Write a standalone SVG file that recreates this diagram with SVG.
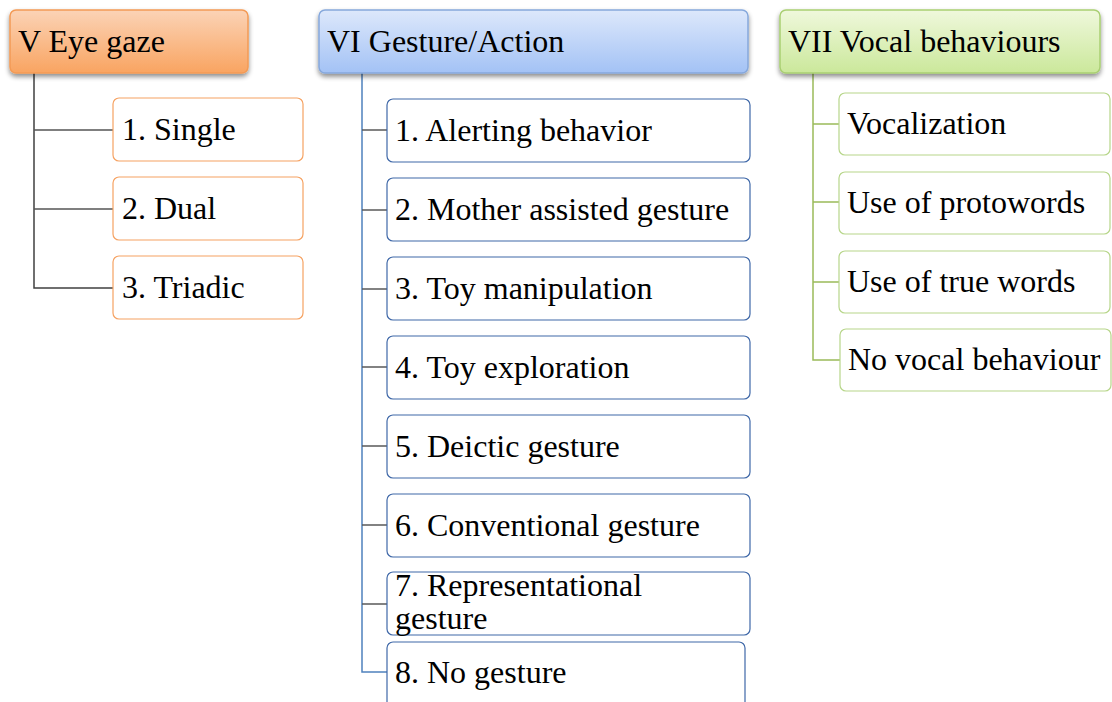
<svg xmlns="http://www.w3.org/2000/svg" width="1112" height="702" viewBox="0 0 1112 702">
<defs>
<linearGradient id="gO" x1="0" y1="0" x2="0" y2="1"><stop offset="0" stop-color="#fbd3b6"/><stop offset="1" stop-color="#f9a461"/></linearGradient>
<linearGradient id="gB" x1="0" y1="0" x2="0" y2="1"><stop offset="0" stop-color="#dde8fb"/><stop offset="1" stop-color="#a3c2f5"/></linearGradient>
<linearGradient id="gG" x1="0" y1="0" x2="0" y2="1"><stop offset="0" stop-color="#eff8dc"/><stop offset="1" stop-color="#cbe89b"/></linearGradient>
<filter id="sh" x="-10%" y="-20%" width="120%" height="160%"><feGaussianBlur in="SourceAlpha" stdDeviation="2.5"/><feOffset dx="0" dy="3" result="b"/><feComponentTransfer><feFuncA type="linear" slope="0.45"/></feComponentTransfer><feMerge><feMergeNode/><feMergeNode in="SourceGraphic"/></feMerge></filter>
</defs>
<style>
text{font-family:"Liberation Serif","Times New Roman",serif;font-size:32px;fill:#000}
.hd{filter:url(#sh);stroke-width:1.5}
.ch{fill:#fff;stroke-width:1.2}
.o{stroke:#f6a262}
.b{stroke:#3f68a8}
.g{stroke:#b7d68a}
.ln{fill:none;stroke-width:1.5}
</style>
<rect width="1112" height="702" fill="#fff"/>
<g id="connectors">
<path class="ln" d="M34 73V288H113" stroke="#404040"/>
<path class="ln" d="M34 130H113M34 209H113" stroke="#555"/>
<path class="ln" d="M362 73V672H387" stroke="#4f81bd"/>
<path class="ln" d="M362 130H387M362 210H387M362 289H387M362 367H387M362 446H387M362 525H387M362 604H387" stroke="#5a5a5a"/>
<path class="ln" d="M813 73V360H840" stroke="#9bbb59" stroke-width="2"/>
<path class="ln" d="M813 124H839M813 202H839M813 282H839" stroke="#9bbb59" stroke-width="2"/>
</g>
<g id="eye-gaze"><rect class="hd" x="10" y="10" width="238" height="63" rx="6" fill="url(#gO)" stroke="#f39a55"/><text x="18" y="52">V Eye gaze</text></g>
<g id="eg1"><rect class="ch o" x="113" y="98" width="190" height="63" rx="6"/><text x="122" y="140">1. Single</text></g>
<g id="eg2"><rect class="ch o" x="113" y="177" width="190" height="63" rx="6"/><text x="122" y="219">2. Dual</text></g>
<g id="eg3"><rect class="ch o" x="113" y="256" width="190" height="63" rx="6"/><text x="122" y="298">3. Triadic</text></g>
<g id="gesture"><rect class="hd" x="319" y="10" width="429" height="63" rx="6" fill="url(#gB)" stroke="#86a8dc"/><text x="327" y="52">VI Gesture/Action</text></g>
<g id="ga1"><rect class="ch b" x="387" y="99" width="363" height="63" rx="6"/><text x="395" y="141">1. Alerting behavior</text></g>
<g id="ga2"><rect class="ch b" x="387" y="178" width="363" height="63" rx="6"/><text x="395" y="220">2. Mother assisted gesture</text></g>
<g id="ga3"><rect class="ch b" x="387" y="257" width="363" height="63" rx="6"/><text x="395" y="299">3. Toy manipulation</text></g>
<g id="ga4"><rect class="ch b" x="387" y="336" width="363" height="63" rx="6"/><text x="395" y="378">4. Toy exploration</text></g>
<g id="ga5"><rect class="ch b" x="387" y="415" width="363" height="63" rx="6"/><text x="395" y="457">5. Deictic gesture</text></g>
<g id="ga6"><rect class="ch b" x="387" y="494" width="363" height="63" rx="6"/><text x="395" y="536">6. Conventional gesture</text></g>
<g id="ga7"><rect class="ch b" x="387" y="572" width="363" height="63" rx="6"/><text x="395" y="596">7. Representational</text><text x="395" y="629">gesture</text></g>
<g id="ga8"><rect class="ch b" x="387" y="642" width="358" height="70" rx="6"/><text x="395" y="683">8. No gesture</text></g>
<g id="vocal"><rect class="hd" x="780" y="10" width="320" height="63" rx="6" fill="url(#gG)" stroke="#a9cf72"/><text x="788" y="52">VII Vocal behaviours</text></g>
<g id="vb1"><rect class="ch g" x="839" y="93" width="271" height="62" rx="6"/><text x="847" y="134">Vocalization</text></g>
<g id="vb2"><rect class="ch g" x="839" y="172" width="271" height="62" rx="6"/><text x="847" y="213">Use of protowords</text></g>
<g id="vb3"><rect class="ch g" x="839" y="251" width="271" height="62" rx="6"/><text x="847" y="292">Use of true words</text></g>
<g id="vb4"><rect class="ch g" x="840" y="329" width="271" height="62" rx="6"/><text x="848" y="370">No vocal behaviour</text></g>
</svg>
